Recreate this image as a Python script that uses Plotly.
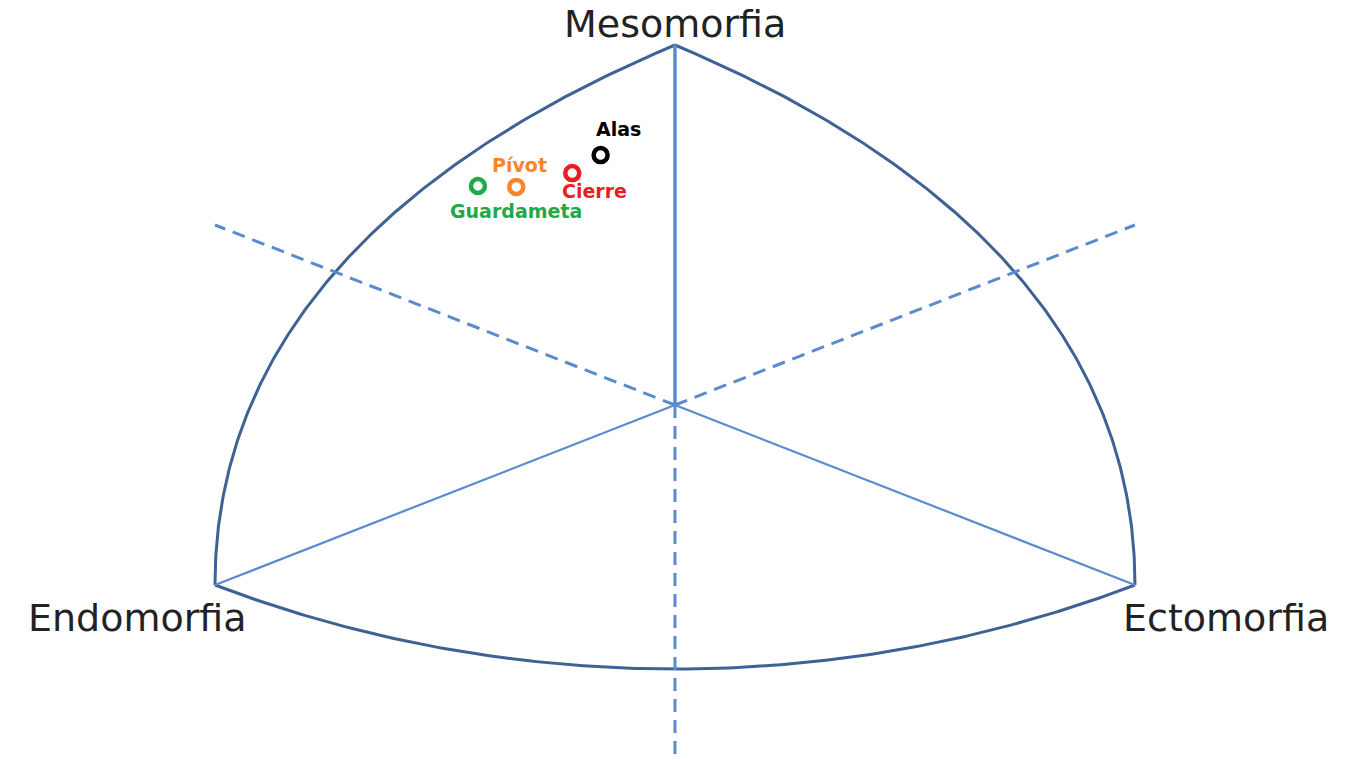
import numpy as np
import plotly.graph_objects as go

# ---- data (somatochart coordinates X = ecto - endo, Y = 2*meso - (endo + ecto)) ----
groups = ["Alas", "Cierre", "Pívot", "Guardameta"]
X_vals = [-0.97, -1.34, -2.07, -2.57]
Y_vals = [8.33, 7.73, 7.27, 7.30]
colors = ["#000000", "#ec1c24", "#f7862b", "#21a84a"]
axis_names = ["Mesomorfia", "Endomorfia", "Ectomorfia"]

# ---- chart frame geometry (somatochart vertices) ----
ENDO = np.array([-6.0, -6.0])
MESO = np.array([0.0, 12.0])
ECTO = np.array([6.0, -6.0])
CENTER = np.array([0.0, 0.0])

X_RANGE = [-8.804, 8.948]
Y_RANGE = [-11.833, 13.5]


def bezier(p0, p1, p2, p3, n=200):
    t = np.linspace(0, 1, n)[:, None]
    return ((1 - t) ** 3) * p0 + 3 * ((1 - t) ** 2) * t * p1 + 3 * (1 - t) * t ** 2 * p2 + t ** 3 * p3


frame_col = "#3d6293"
inner_col = "#5b8bcf"

fig = go.Figure()

# outer curved boundary
left = bezier(ENDO, np.array([-6.0, 2.667]), np.array([-3.391, 8.367]), MESO)
right = bezier(ECTO, np.array([6.0, 2.667]), np.array([3.391, 8.367]), MESO)
bottom = bezier(ENDO, np.array([-2.165, -9.733]), np.array([2.165, -9.733]), ECTO)
for seg in (left, right, bottom):
    fig.add_trace(go.Scatter(x=seg[:, 0], y=seg[:, 1], mode="lines",
                             line=dict(color=frame_col, width=3),
                             hoverinfo="skip", showlegend=False))

# dashed reference lines (opposite each vertex)
for end in (np.array([-6.0, 6.0]), np.array([6.0, 6.0]), np.array([0.0, Y_RANGE[0]])):
    fig.add_trace(go.Scatter(x=[CENTER[0], end[0]], y=[CENTER[1], end[1]], mode="lines",
                             line=dict(color=inner_col, width=3, dash="13px,8px"),
                             hoverinfo="skip", showlegend=False))

# solid lines from centre to each vertex
fig.add_trace(go.Scatter(x=[CENTER[0], MESO[0]], y=[CENTER[1], MESO[1]], mode="lines",
                         line=dict(color=inner_col, width=3.5), hoverinfo="skip", showlegend=False))
for v in (ENDO, ECTO):
    fig.add_trace(go.Scatter(x=[CENTER[0], v[0]], y=[CENTER[1], v[1]], mode="lines",
                             line=dict(color=inner_col, width=2.2), hoverinfo="skip", showlegend=False))

# group points
for g, xv, yv, c in zip(groups, X_vals, Y_vals, colors):
    fig.add_trace(go.Scatter(x=[xv], y=[yv], mode="markers", name=g,
                             marker=dict(symbol="circle-open", size=14, color=c,
                                         line=dict(color=c, width=4.5)),
                             showlegend=False))

label_offsets = {"Alas": (18, 26), "Cierre": (22, -18), "Pívot": (3, 22), "Guardameta": (38, -25)}
annotations = []
for g, xv, yv, c in zip(groups, X_vals, Y_vals, colors):
    dx, dy = label_offsets[g]
    annotations.append(dict(x=xv, y=yv, xref="x", yref="y", text="<b>%s</b>" % g,
                            showarrow=False, xshift=dx, yshift=dy,
                            font=dict(family="DejaVu Sans", size=19, color=c)))

# axis (vertex) titles
annotations.append(dict(x=MESO[0], y=MESO[1], xref="x", yref="y", text=axis_names[0],
                        showarrow=False, yshift=21,
                        font=dict(family="DejaVu Sans", size=38, color="#222222")))
annotations.append(dict(x=ENDO[0], y=ENDO[1], xref="x", yref="y", text=axis_names[1],
                        showarrow=False, xshift=-77, yshift=-33,
                        font=dict(family="DejaVu Sans", size=38, color="#222222")))
annotations.append(dict(x=ECTO[0], y=ECTO[1], xref="x", yref="y", text=axis_names[2],
                        showarrow=False, xshift=91, yshift=-33,
                        font=dict(family="DejaVu Sans", size=38, color="#222222")))

fig.update_layout(
    width=1361, height=760,
    margin=dict(l=0, r=0, t=0, b=0),
    paper_bgcolor="white", plot_bgcolor="white",
    xaxis=dict(range=X_RANGE, visible=False, fixedrange=True),
    yaxis=dict(range=Y_RANGE, visible=False, fixedrange=True),
    annotations=annotations,
    showlegend=False,
)

fig.write_html("out.html", config={"displayModeBar": False},
               post_script="document.body.style.margin='0';document.body.style.overflow='hidden';")
